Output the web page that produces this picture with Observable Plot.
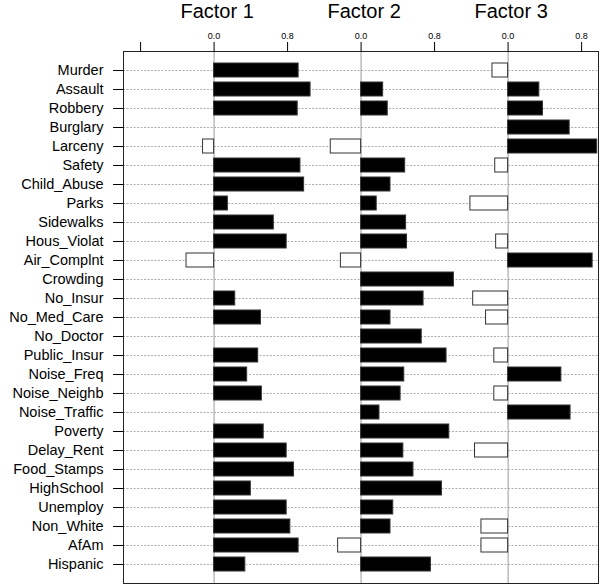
<!DOCTYPE html>
<html><head><meta charset="utf-8">
<script src="https://cdn.jsdelivr.net/npm/d3@7"></script>
<script src="https://cdn.jsdelivr.net/npm/@observablehq/plot@0.6"></script>
<style>body{margin:0;background:#fff;font-family:"Liberation Sans",Arial,sans-serif}</style>
</head><body><div id="chart"></div>
<script>
const variables = ["Murder","Assault","Robbery","Burglary","Larceny","Safety","Child_Abuse","Parks","Sidewalks","Hous_Violat","Air_Complnt","Crowding","No_Insur","No_Med_Care","No_Doctor","Public_Insur","Noise_Freq","Noise_Neighb","Noise_Traffic","Poverty","Delay_Rent","Food_Stamps","HighSchool","Unemploy","Non_White","AfAm","Hispanic"];
const factorTitles = ["Factor 1","Factor 2","Factor 3"];
const factor1 = [0.92, 1.05, 0.91, null, -0.12, 0.94, 0.98, 0.15, 0.65, 0.79, -0.30, null, 0.23, 0.51, null, 0.48, 0.36, 0.52, null, 0.54, 0.79, 0.87, 0.40, 0.79, 0.83, 0.92, 0.34];
const factor2 = [null, 0.24, 0.29, null, -0.33, 0.48, 0.32, 0.17, 0.49, 0.50, -0.22, 1.01, 0.68, 0.32, 0.66, 0.93, 0.47, 0.43, 0.20, 0.96, 0.46, 0.57, 0.88, 0.35, 0.32, -0.25, 0.76];
const factor3 = [-0.17, 0.34, 0.38, 0.67, 0.97, -0.14, null, -0.41, null, -0.13, 0.92, null, -0.38, -0.24, null, -0.15, 0.58, -0.15, 0.68, null, -0.36, null, null, null, -0.29, -0.29, null];
const tickValues = [-0.8, 0, 0.8];
const tickLabels = ["", "0.0", "0.8"];
const panelShift = 1.6;

const series = [factor1, factor2, factor3];
const loadings = [];
variables.forEach((v, i) => series.forEach((s, j) => {
  if (s[i] != null) loadings.push({variable: v, factor: j, value: s[i], base: j * panelShift});
}));
const zeros = factorTitles.map((t, j) => ({title: t, x: j * panelShift}));
const labelMap = new Map();
zeros.forEach(z => tickValues.forEach((t, k) => {
  const p = Math.round((z.x + t) * 100) / 100;
  if (!labelMap.has(p) || tickLabels[k] !== "") labelMap.set(p, tickLabels[k]);
}));
const tickPositions = [...labelMap.keys()].sort((a, b) => a - b);

const chart = Plot.plot({
  width: 600,
  height: 585,
  marginTop: 51,
  marginLeft: 123,
  marginRight: 2,
  marginBottom: 2,
  style: {fontFamily: "'Liberation Sans', Arial, sans-serif", background: "white", color: "black"},
  x: {domain: [-0.986, 4.184], label: null},
  y: {type: "band", domain: variables, paddingInner: 0.26, paddingOuter: 0.63, label: null},
  marks: [
    Plot.gridY({stroke: "#999", strokeOpacity: 1, strokeDasharray: "2,1.5", strokeWidth: 0.8}),
    Plot.ruleX(zeros, {x: "x", stroke: "#999", strokeWidth: 1}),
    Plot.barX(loadings, {
      y: "variable",
      x1: "base",
      x2: d => d.base + d.value,
      fill: d => d.value > 0 ? "black" : "white",
      stroke: "#333",
      strokeWidth: 1
    }),
    Plot.frame({stroke: "#222"}),
    Plot.axisX({anchor: "top", ticks: tickPositions, tickFormat: p => labelMap.get(Math.round(p * 100) / 100), tickSize: 10, tickPadding: 3, fontSize: 9, label: null}),
    Plot.axisY({anchor: "left", tickSize: 10, tickPadding: 10, fontSize: 14.5, label: null}),
    Plot.text(zeros, {x: "x", text: "title", frameAnchor: "top", dy: -33.5, dx: 3, fontSize: 20, lineAnchor: "bottom"})
  ]
});
document.getElementById("chart").append(chart);
</script>
</body></html>
